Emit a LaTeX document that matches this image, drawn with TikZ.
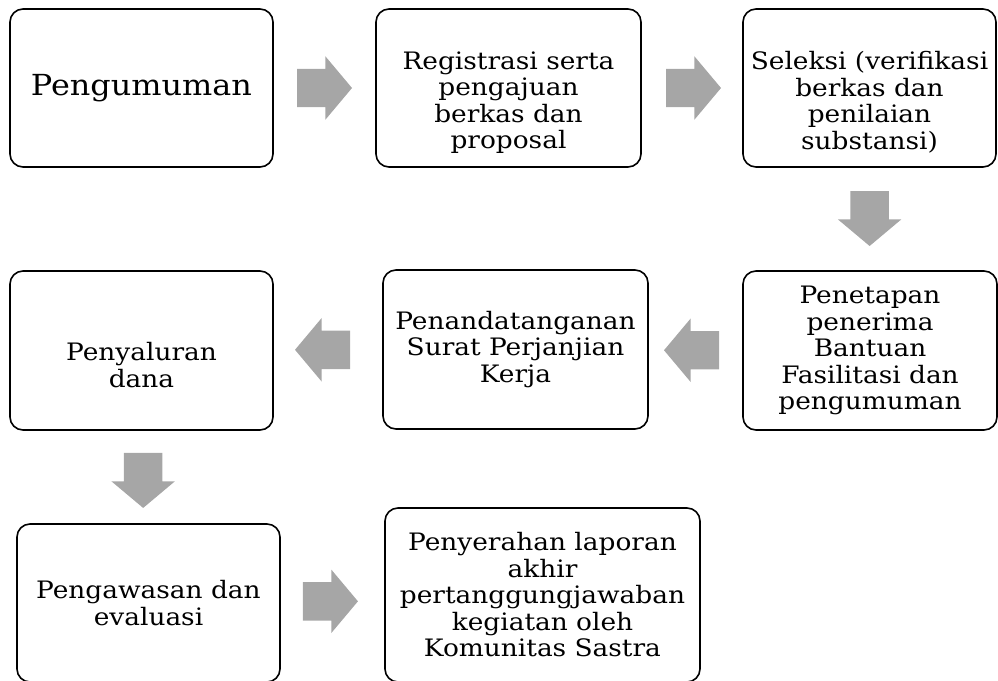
\documentclass[tikz,border=0pt]{standalone}
\usepackage{fontspec}
\setmainfont{DejaVu Serif}[FakeStretch=1.1]
\usetikzlibrary{shapes.arrows,calc}
\definecolor{arrowgray}{RGB}{166,166,166}
\newcommand{\lowtext}{\rule{0pt}{47pt}}
\begin{document}
\begin{tikzpicture}[x=1pt,y=-1pt,line join=round,
	stepbox/.style={draw,line width=1.6pt,rounded corners=13pt,align=center,inner sep=0pt,
		minimum width=263pt,minimum height=158pt,font=\fontsize{24}{26.5}\selectfont},
	blockarrow/.style={single arrow,fill=arrowgray,draw=none,anchor=tail,inner xsep=0pt,inner ysep=19pt,
		minimum height=55pt,minimum width=63pt,single arrow head extend=12.5pt,single arrow tip angle=100},
	downarrow/.style={blockarrow,shape border rotate=270,inner xsep=19pt,inner ysep=0pt}]
	\useasboundingbox (0,0) rectangle (998,680);
	\node[stepbox,font=\fontsize{29}{30}\selectfont] (peng) at (141.5,88) {Pengumuman};
	\node[stepbox,minimum width=265pt] (regis) at (508.5,88) {\lowtext Registrasi serta\\pengajuan\\berkas dan\\proposal};
	\node[stepbox,minimum width=253pt] (seleksi) at (869.5,88) {\lowtext Seleksi (verifikasi\\berkas dan\\penilaian\\substansi)};
	\node[stepbox,minimum width=254pt,minimum height=159pt] (tetap) at (870,350.5) {Penetapan\\penerima\\Bantuan\\Fasilitasi dan\\pengumuman};
	\node[stepbox,minimum width=265pt,minimum height=159pt] (ttd) at (515.5,349.5) {Penandatanganan\\Surat Perjanjian\\Kerja};
	\node[stepbox,minimum height=159pt] (salur) at (141.5,350.5) {\lowtext Penyaluran\\dana};
	\node[stepbox] (awas) at (148.5,603) {Pengawasan dan\\evaluasi};
	\node[stepbox,minimum width=315pt,minimum height=174pt] (lapor) at (542.5,595) {Penyerahan laporan\\akhir\\pertanggungjawaban\\kegiatan oleh\\Komunitas Sastra};
	\node[blockarrow] (a1) at ($(peng.east)!23pt!(regis.west)$) {};
	\node[blockarrow] (a2) at ($(regis.east)!24pt!(seleksi.west)$) {};
	\node[downarrow] (a3) at ($(seleksi.south)!23pt!(tetap.north)$) {};
	\node[blockarrow,shape border rotate=180] (a4) at ($(tetap.west)!23pt!(ttd.east)$) {};
	\node[blockarrow,shape border rotate=180] (a5) at ($(ttd.west)!32pt!(salur.east)$) {};
	\node[downarrow] (a6) at ($(salur.south)!22pt!(awas.north)$) {};
	\node[blockarrow] (a7) at ($(awas.east)!22pt!(lapor.west)$) {};
\end{tikzpicture}
\end{document}
